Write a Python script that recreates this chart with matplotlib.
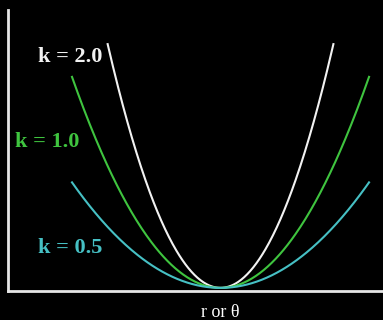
import numpy as np
import matplotlib
matplotlib.use('Agg')
import matplotlib.pyplot as plt

# spring constants, colours, labels and how far each curve runs
k_values = [2.0, 1.0, 0.5]
colors = ['#f2f2f2', '#3fc43f', '#46c0c4']
labels = ['k = 2.0', 'k = 1.0', 'k = 0.5']
x_limits = [1.14, 1.5, 1.5]
label_pos = [(-1.52, 1.23), (-1.75, 0.78), (-1.52, 0.21)]

fig = plt.figure(figsize=(3.83, 3.20), dpi=100, facecolor='black')
ax = fig.add_axes([0.021, 0.091, 0.979, 0.878])
ax.set_facecolor('black')

for k, c, xm in zip(k_values, colors, x_limits):
    x = np.linspace(-xm, xm, 300)
    ax.plot(x, 0.5 * k * x ** 2, color=c, linewidth=1.5)

for text, c, (tx, ty) in zip(labels, colors, label_pos):
    ax.text(tx, ty, text, color=c, fontsize=16, family='Liberation Serif',
            weight='semibold', ha='center', va='center')

ax.set_xlim(-2.146, 1.641)
ax.set_ylim(-0.016, 1.482)
ax.set_xticks([])
ax.set_yticks([])
for side in ['top', 'right']:
    ax.spines[side].set_visible(False)
for side in ['left', 'bottom']:
    ax.spines[side].set_color('#e6e6e6')
    ax.spines[side].set_linewidth(2)

fig.text(0.575, 0.022, 'r or θ', color='white', fontsize=13,
         family='Liberation Serif', ha='center', va='center')

fig.savefig('out.png', dpi=100, facecolor='black')
